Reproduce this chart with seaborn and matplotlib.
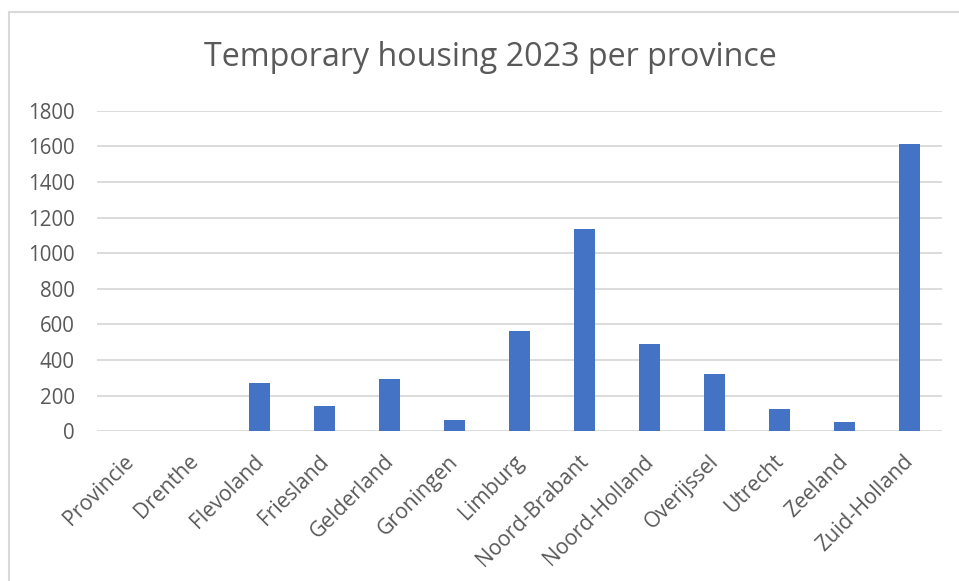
import matplotlib
matplotlib.use("Agg")
import matplotlib.pyplot as plt
from matplotlib.patches import Rectangle
import matplotlib.transforms as mtransforms
import pandas as pd
import seaborn as sns

# Data
provinces = ["Provincie", "Drenthe", "Flevoland", "Friesland", "Gelderland",
             "Groningen", "Limburg", "Noord-Brabant", "Noord-Holland",
             "Overijssel", "Utrecht", "Zeeland", "Zuid-Holland"]
housing = [0, 0, 273, 144, 292, 62, 563, 1136, 488, 324, 123, 54, 1613]
y_ticks = [0, 200, 400, 600, 800, 1000, 1200, 1400, 1600, 1800]
title = "Temporary housing 2023 per province"

df = pd.DataFrame({"province": provinces, "count": housing})

sns.set_theme(style="white")
plt.rcParams["font.family"] = ["Open Sans", "DejaVu Sans"]

text_color = "#595959"
grid_color = "#d9d9d9"
bar_color = "#4472C4"

fig = plt.figure(figsize=(9.59, 5.81), dpi=100)
ax = fig.add_axes([97 / 959, 1 - 431.3 / 581, (942 - 97) / 959, (431.3 - 110.7) / 581])

sns.barplot(data=df, x="province", y="count", ax=ax, color=bar_color,
            saturation=1, width=0.31, linewidth=0, zorder=3)

ax.set_xlim(-0.5, len(provinces) - 0.5)
ax.set_ylim(0, 1800)
ax.set_yticks(y_ticks)
ax.set_yticklabels([str(v) for v in y_ticks], fontsize=14.8, color=text_color)
ax.tick_params(axis="y", length=0, pad=16)
ax.tick_params(axis="x", length=0, pad=19.5)
ax.set_xticks(range(len(provinces)))
ax.set_xticklabels(provinces, rotation=45, ha="right", va="center",
                   rotation_mode="anchor", fontsize=15.2, color=text_color)
shift = mtransforms.ScaledTranslation(1 / 100, 0, fig.dpi_scale_trans)
for lbl in ax.get_xticklabels():
    lbl.set_transform(lbl.get_transform() + shift)

for v in y_ticks:
    ax.axhline(v, color=grid_color, lw=1.3, zorder=1)

for s in ax.spines.values():
    s.set_visible(False)
ax.set_xlabel("")
ax.set_ylabel("")

fig.text(490 / 959, 1 - 57.5 / 581, title, ha="center", va="center",
         fontsize=23.2, color=text_color)

# Chart frame (left and top edges visible)
fig.add_artist(Rectangle((8.5 / 959, -0.2), 1.2, 0.2 + (581 - 12) / 581,
                         transform=fig.transFigure, fill=False,
                         edgecolor=grid_color, lw=1.5))

fig.savefig("out.png", dpi=100, facecolor="white")
